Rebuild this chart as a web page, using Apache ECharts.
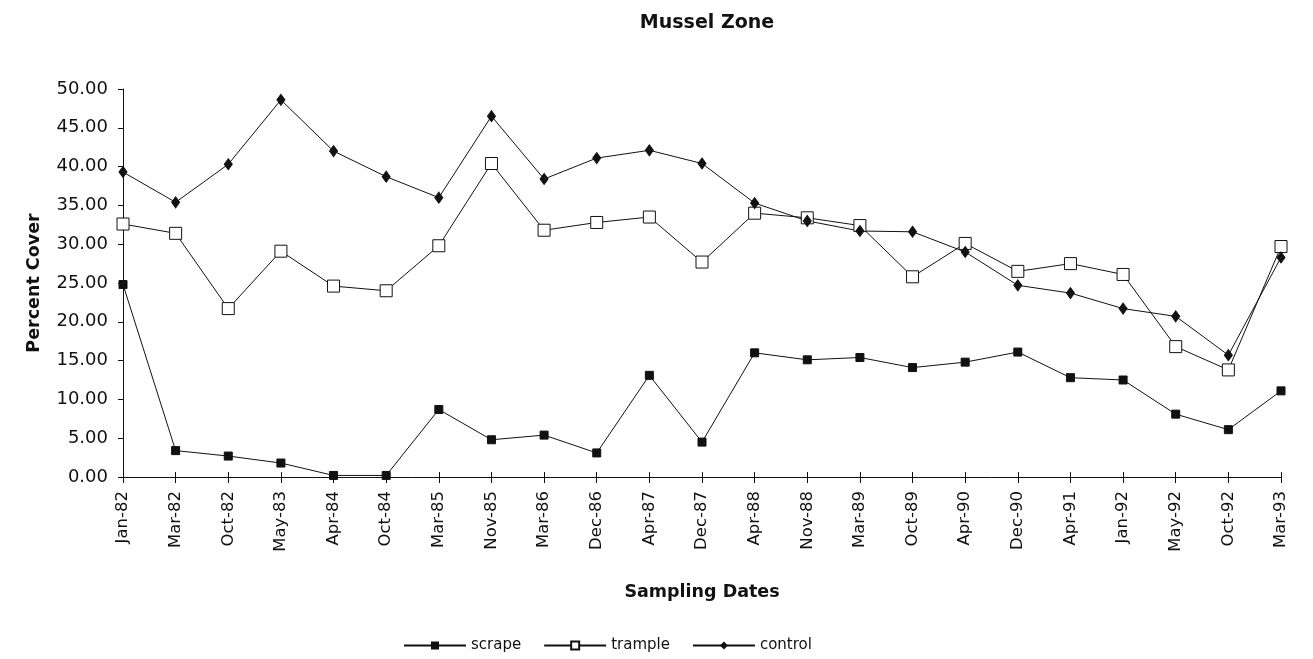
<!DOCTYPE html>
<html><head><meta charset="utf-8">
<script src="https://cdn.jsdelivr.net/npm/echarts@6/dist/echarts.min.js"></script>
<style>html,body{margin:0;padding:0;background:#fff}#c{width:1313px;height:659px}</style>
</head><body><div id="c"></div>
<script>
const categories = ['Jan-82','Mar-82','Oct-82','May-83','Apr-84','Oct-84','Mar-85','Nov-85','Mar-86','Dec-86','Apr-87','Dec-87','Apr-88','Nov-88','Mar-89','Oct-89','Apr-90','Dec-90','Apr-91','Jan-92','May-92','Oct-92','Mar-93'];
const scrape  = [24.8,3.4,2.7,1.8,0.2,0.2,8.7,4.8,5.4,3.1,13.1,4.5,16.0,15.1,15.4,14.1,14.8,16.1,12.8,12.5,8.1,6.1,11.1];
const trample = [32.6,31.4,21.7,29.1,24.6,24.0,29.8,40.4,31.8,32.8,33.5,27.7,34.0,33.4,32.4,25.8,30.1,26.5,27.5,26.1,16.8,13.8,29.7];
const control = [39.3,35.4,40.3,48.6,42.0,38.7,36.0,46.5,38.4,41.1,42.1,40.4,35.3,33.0,31.7,31.6,29.0,24.7,23.7,21.7,20.7,15.7,28.3];
const yTicks = [0,5,10,15,20,25,30,35,40,45,50];

const FONT = '"DejaVu Sans", sans-serif';
const chart = echarts.init(document.getElementById('c'));
const lineStyle = {color:'#111', width:1};
chart.setOption({
  backgroundColor:'#fff',
  animation:false,
  title:{text:'Mussel Zone', left:702, textAlign:'center', top:9,
    textStyle:{fontFamily:FONT, fontSize:19, fontWeight:'bold', color:'#111'}},
  legend:{top:633, left:398, itemWidth:62, itemHeight:10, itemGap:22,
    textStyle:{fontFamily:FONT, fontSize:15, color:'#111'},
    data:['scrape','trample','control']},
  grid:{left:123, right:32, top:89, bottom:182},
  xAxis:[{type:'category', data:categories, boundaryGap:false,
    name:'Sampling Dates', nameLocation:'middle', nameGap:106,
    nameTextStyle:{fontFamily:FONT, fontSize:17.5, fontWeight:'bold', color:'#111'},
    axisLine:{lineStyle:{color:'#111', width:1}},
    axisTick:{inside:false, length:6, lineStyle:{color:'#111'}},
    axisLabel:{rotate:90, fontFamily:FONT, fontSize:16.5, color:'#111', margin:14},
    splitLine:{show:false}},
   {type:'category', data:categories, boundaryGap:false, position:'bottom',
    axisLine:{show:false},
    axisTick:{inside:true, length:5, lineStyle:{color:'#111'}},
    axisLabel:{show:false}, splitLine:{show:false}}],
  yAxis:{type:'value', min:0, max:50, interval:5,
    name:'Percent Cover', nameLocation:'middle', nameGap:80,
    nameTextStyle:{fontFamily:FONT, fontSize:17.5, fontWeight:'bold', color:'#111'},
    axisLine:{show:true, lineStyle:{color:'#111', width:1}},
    axisTick:{show:true, length:5, lineStyle:{color:'#111'}},
    axisLabel:{fontFamily:FONT, fontSize:18, color:'#111', margin:15,
      formatter:v=>yTicks.includes(v)?v.toFixed(2):''},
    splitLine:{show:false}},
  series:[
    {name:'scrape', type:'line', data:scrape, symbol:'rect', symbolSize:8,
      itemStyle:{color:'#111', borderColor:'#111'}, lineStyle:lineStyle},
    {name:'trample', type:'line', data:trample, symbol:'rect', symbolSize:12,
      itemStyle:{color:'#fff', borderColor:'#111', borderWidth:1}, lineStyle:lineStyle},
    {name:'control', type:'line', data:control, symbol:'diamond', symbolSize:[8,11],
      itemStyle:{color:'#111', borderColor:'#111'}, lineStyle:lineStyle}
  ]
});
</script></body></html>
